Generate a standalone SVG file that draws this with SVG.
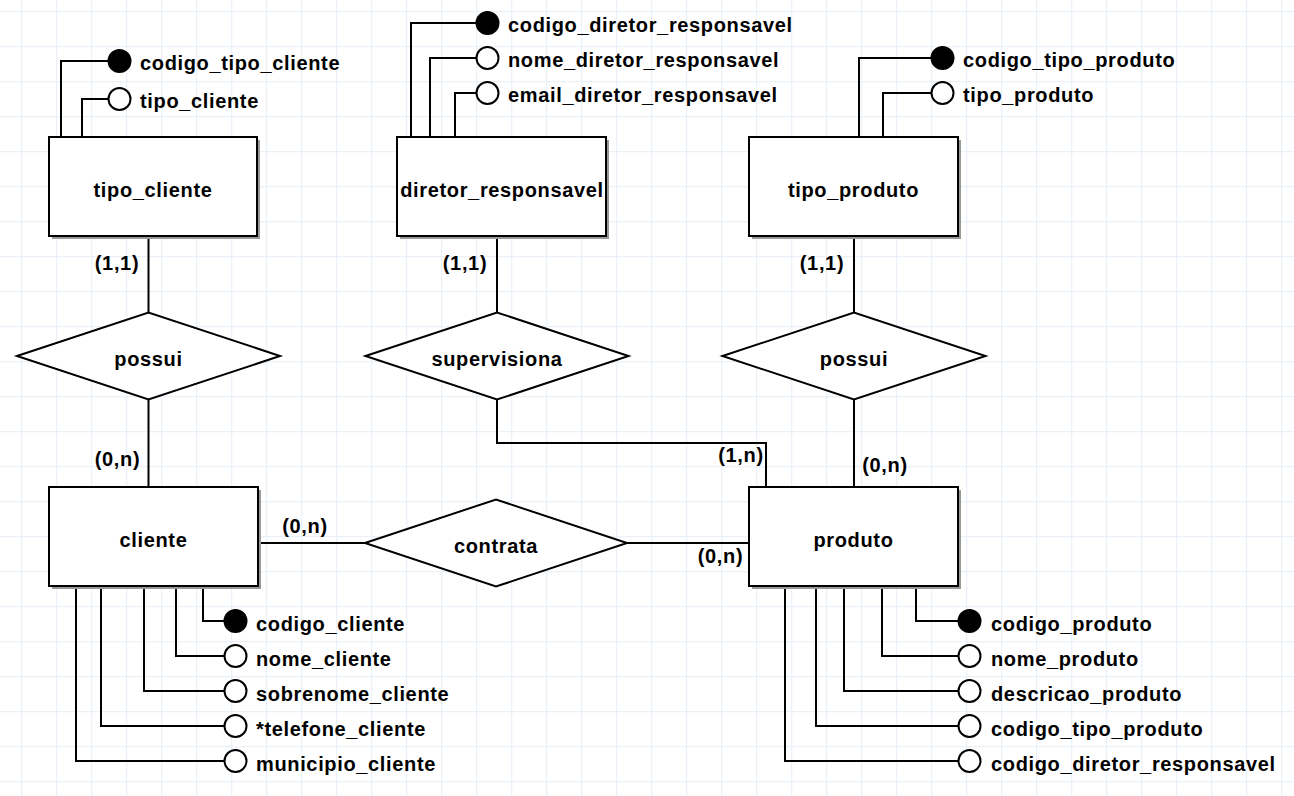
<svg xmlns="http://www.w3.org/2000/svg" width="1294" height="796" viewBox="0 0 1294 796">
<style>
text{font-family:"Liberation Sans",Arial,sans-serif;font-weight:bold;font-size:20px;letter-spacing:0.65px;fill:#000}
.c{text-anchor:middle}
.ent{fill:#fff;stroke:#000;stroke-width:2}
.sh{fill:#999}
.rel{fill:#fff;stroke:#000;stroke-width:2}
.ln{fill:none;stroke:#000;stroke-width:2}
.pk{fill:#000;stroke:#000;stroke-width:2}
.at{fill:#fff;stroke:#000;stroke-width:2}
</style>
<defs>
<pattern id="grid" x="21.2" y="11.2" width="35" height="35" patternUnits="userSpaceOnUse">
<path d="M0 0.5H35M0.5 0V35" fill="none" stroke="#e6edf7" stroke-width="1"/>
</pattern>
</defs>
<rect width="1294" height="796" fill="#fff"/>
<rect width="1294" height="796" fill="url(#grid)"/>

<g id="connectors">
<path class="ln" d="M148.5 237V312.5M148.5 399.5V487"/>
<path class="ln" d="M497 237V312.5M497 399.5V443H766V487"/>
<path class="ln" d="M854 237V312.5M854 399.5V487"/>
<path class="ln" d="M258 543H365M627 543H749"/>
<text class="c" x="117" y="270">(1,1)</text>
<text class="c" x="117.5" y="466">(0,n)</text>
<text class="c" x="465" y="270">(1,1)</text>
<text class="c" x="822" y="270">(1,1)</text>
<text class="c" x="305" y="533">(0,n)</text>
<text class="c" x="720.5" y="563">(0,n)</text>
<text class="c" x="741" y="462">(1,n)</text>
<text class="c" x="885" y="472">(0,n)</text>
</g>

<g id="tipo_cliente">
<path class="ln" d="M61 137V61H108.5M82 137V99H108.5"/>
<circle class="pk" cx="119.5" cy="61" r="11"/>
<circle class="at" cx="119.5" cy="99" r="11"/>
<text x="140" y="70">codigo_tipo_cliente</text>
<text x="140" y="108">tipo_cliente</text>
<rect class="sh" x="52" y="140" width="208" height="99"/>
<rect class="ent" x="49" y="137" width="208" height="99"/>
<text class="c" x="153" y="197">tipo_cliente</text>
</g>

<g id="diretor_responsavel">
<path class="ln" d="M411 137V23H476.5M430 137V58H476.5M455 137V93H476.5"/>
<circle class="pk" cx="487.5" cy="23" r="11"/>
<circle class="at" cx="487.5" cy="58" r="11"/>
<circle class="at" cx="487.5" cy="93" r="11"/>
<text x="508" y="32">codigo_diretor_responsavel</text>
<text x="508" y="67">nome_diretor_responsavel</text>
<text x="508" y="102">email_diretor_responsavel</text>
<rect class="sh" x="400" y="140" width="209" height="99"/>
<rect class="ent" x="397" y="137" width="209" height="99"/>
<text class="c" x="502" y="197">diretor_responsavel</text>
</g>

<g id="tipo_produto">
<path class="ln" d="M859 137V58H931.5M883 137V93H931.5"/>
<circle class="pk" cx="942.5" cy="58" r="11"/>
<circle class="at" cx="942.5" cy="93" r="11"/>
<text x="963" y="67">codigo_tipo_produto</text>
<text x="963" y="102">tipo_produto</text>
<rect class="sh" x="752" y="140" width="209" height="99"/>
<rect class="ent" x="749" y="137" width="209" height="99"/>
<text class="c" x="853.5" y="197">tipo_produto</text>
</g>

<g id="possui_cliente">
<polygon class="rel" points="17,356 148.5,312.5 280,356 148.5,399.5"/>
<text class="c" x="148.5" y="366">possui</text>
</g>

<g id="supervisiona">
<polygon class="rel" points="365.5,356 497,312.5 628.5,356 497,399.5"/>
<text class="c" x="497" y="366">supervisiona</text>
</g>

<g id="possui_produto">
<polygon class="rel" points="722.5,356 854,312.5 985.5,356 854,399.5"/>
<text class="c" x="854" y="366">possui</text>
</g>

<g id="contrata">
<polygon class="rel" points="365,543 496,499.5 627,543 496,586.5"/>
<text class="c" x="496" y="553">contrata</text>
</g>

<g id="cliente">
<path class="ln" d="M203 586V621H224.5M176 586V656H224.5M144 586V691H224.5M101 586V726H224.5M76 586V761H224.5"/>
<circle class="pk" cx="235.5" cy="621" r="11"/>
<circle class="at" cx="235.5" cy="656" r="11"/>
<circle class="at" cx="235.5" cy="691" r="11"/>
<circle class="at" cx="235.5" cy="726" r="11"/>
<circle class="at" cx="235.5" cy="761" r="11"/>
<text x="256" y="631">codigo_cliente</text>
<text x="256" y="666">nome_cliente</text>
<text x="256" y="701">sobrenome_cliente</text>
<text x="256" y="736">*telefone_cliente</text>
<text x="256" y="771">municipio_cliente</text>
<rect class="sh" x="52" y="490" width="209" height="99"/>
<rect class="ent" x="49" y="487" width="209" height="99"/>
<text class="c" x="153.5" y="547">cliente</text>
</g>

<g id="produto">
<path class="ln" d="M916 586V621H958.5M882 586V656H958.5M844 586V691H958.5M816 586V726H958.5M785 586V761H958.5"/>
<circle class="pk" cx="969.5" cy="621" r="11"/>
<circle class="at" cx="969.5" cy="656" r="11"/>
<circle class="at" cx="969.5" cy="691" r="11"/>
<circle class="at" cx="969.5" cy="726" r="11"/>
<circle class="at" cx="969.5" cy="761" r="11"/>
<text x="991" y="631">codigo_produto</text>
<text x="991" y="666">nome_produto</text>
<text x="991" y="701">descricao_produto</text>
<text x="991" y="736">codigo_tipo_produto</text>
<text x="991" y="771">codigo_diretor_responsavel</text>
<rect class="sh" x="752" y="490" width="209" height="99"/>
<rect class="ent" x="749" y="487" width="209" height="99"/>
<text class="c" x="853.5" y="547">produto</text>
</g>
</svg>
